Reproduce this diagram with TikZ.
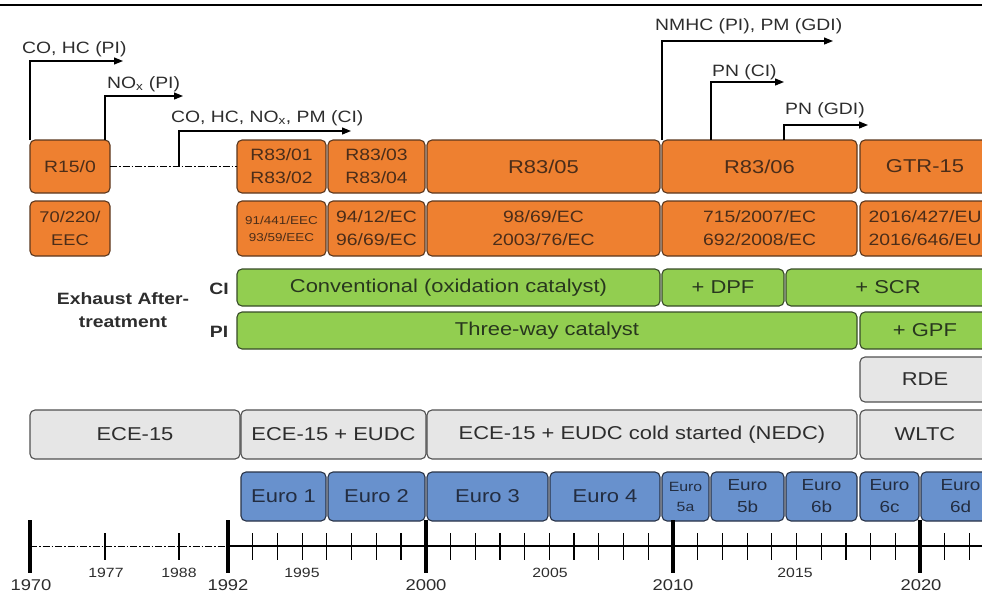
\documentclass[tikz,border=0pt]{standalone}
\usepackage{fontspec}
\setmainfont[FakeStretch=1.18]{Liberation Sans}
\usetikzlibrary{arrows.meta}
\definecolor{ora}{RGB}{238,128,48}
\definecolor{oraD}{RGB}{90,55,30}
\definecolor{oraT}{RGB}{75,45,25}
\definecolor{grn}{RGB}{146,206,80}
\definecolor{grnD}{RGB}{55,75,40}
\definecolor{grnT}{RGB}{40,55,30}
\definecolor{blu}{RGB}{104,145,205}
\definecolor{bluD}{RGB}{40,50,70}
\definecolor{bluT}{RGB}{35,45,65}
\definecolor{gry}{RGB}{230,230,230}
\definecolor{gryD}{RGB}{80,80,80}
\definecolor{txt}{RGB}{45,45,45}
\newcommand\fL{\fontsize{18.6}{22}\selectfont}
\newcommand\fM{\fontsize{16.4}{23}\selectfont}
\newcommand\fS{\fontsize{13.4}{20}\selectfont}
\newcommand\fT{\fontsize{11.4}{17}\selectfont}
\newcommand\fY{\fontsize{15.6}{18}\selectfont}
\newcommand\mybox[7]{%
  \pgfmathsetmacro\bxw{#4-#3}\pgfmathsetmacro\bxh{#6-#5}%
  \pgfmathsetmacro\bxcx{(#3+#4)/2}\pgfmathsetmacro\bxcy{(#5+#6)/2}%
  \node[#1, minimum width=\bxw pt, minimum height=\bxh pt] (#2) at (\bxcx,\bxcy) {#7};}
\begin{document}
\begin{tikzpicture}[x=1pt,y=-1pt,
  box/.style={draw, rounded corners=5pt, inner sep=0pt, outer sep=0pt, line width=1.1pt, align=center, font=\fL},
  obox/.style={box, fill=ora, draw=oraD, text=oraT},
  gbox/.style={box, fill=grn, draw=grnD, text=grnT},
  bbox/.style={box, fill=blu, draw=bluD, text=bluT},
  ybox/.style={box, fill=gry, draw=gryD, text=txt},
  lbl/.style={inner sep=0pt, text=txt, font=\fM, anchor=base west},
  arr/.style={line width=1.2pt, draw=black, -{Triangle[length=9pt,width=7pt]}},
  dashdot/.style={line width=1pt, dash pattern=on 7pt off 2pt on 1.5pt off 2pt},
  yrB/.style={inner sep=0pt, text=txt, font=\fY, anchor=base},
  yrS/.style={inner sep=0pt, text=txt, font=\fS, anchor=base},
  bigtick/.style={line width=4pt},
  smalltick/.style={line width=1.2pt}]
\useasboundingbox (0,0) rectangle (982,592);
\clip (0,0) rectangle (982,592);
\draw[line width=1.5pt] (0,5) -- (982,5);
% Row 1: regulations
\mybox{obox,font=\fM}{R150}{30}{110}{140}{193}{R15/0}
\mybox{obox,font=\fM}{R8301}{237}{326}{140}{193}{R83/01\\R83/02}
\mybox{obox,font=\fM}{R8303}{328}{425}{140}{193}{R83/03\\R83/04}
\mybox{obox}{R8305}{427}{660}{140}{193}{R83/05}
\mybox{obox}{R8306}{662}{857}{140}{193}{R83/06}
\mybox{obox}{GTR}{860}{990}{140}{193}{GTR-15}
% Row 2: directives
\mybox{obox,font=\fontsize{15.5}{22.5}\selectfont}{D70}{30}{110}{201}{256}{70/220/\\EEC}
\mybox{obox,font=\fT}{D91}{237}{326}{201}{256}{91/441/EEC\\93/59/EEC}
\mybox{obox,font=\fM}{D94}{328}{425}{201}{256}{94/12/EC\\96/69/EC}
\mybox{obox,font=\fM}{D98}{427}{660}{201}{256}{98/69/EC\\2003/76/EC}
\mybox{obox,font=\fM}{D715}{662}{857}{201}{256}{715/2007/EC\\692/2008/EC}
\mybox{obox,font=\fM}{D2016}{860}{990}{201}{256}{2016/427/EU\\2016/646/EU}
% Aftertreatment
\mybox{gbox}{G1}{237}{660}{269}{306}{Conventional (oxidation catalyst)}
\mybox{gbox}{G2}{662}{784}{269}{306}{+ DPF}
\mybox{gbox}{G3}{786}{990}{269}{306}{+ SCR}
\mybox{gbox}{G4}{237}{857}{312}{349}{Three-way catalyst}
\mybox{gbox}{G5}{860}{990}{312}{349}{+ GPF}
\mybox{ybox}{RDE}{860}{990}{357}{402}{RDE}
\node[inner sep=0pt, text=txt, font=\bfseries\fM, align=center] (ex) at (123,310.5) {Exhaust After-\\treatment};
\node[inner sep=0pt, text=txt, font=\bfseries\fM] (ci) at (219,288.5) {CI};
\node[inner sep=0pt, text=txt, font=\bfseries\fM] (pi) at (219,331.5) {PI};
% Test cycles
\mybox{ybox}{C1}{30}{240}{410}{459}{ECE-15}
\mybox{ybox}{C2}{241}{426}{410}{459}{ECE-15 + EUDC}
\mybox{ybox}{C3}{427}{857}{410}{459}{ECE-15 + EUDC cold started (NEDC)}
\mybox{ybox}{C4}{860}{990}{410}{459}{WLTC}
% Euro stages
\mybox{bbox}{E1}{241}{326}{472}{521}{Euro 1}
\mybox{bbox}{E2}{328}{425}{472}{521}{Euro 2}
\mybox{bbox}{E3}{427}{548}{472}{521}{Euro 3}
\mybox{bbox}{E4}{550}{660}{472}{521}{Euro 4}
\mybox{bbox,font=\fS}{E5a}{662}{709}{472}{521}{Euro\\5a}
\mybox{bbox,font=\fontsize{16}{22}\selectfont}{E5b}{711}{784}{472}{521}{Euro\\5b}
\mybox{bbox,font=\fontsize{16}{22}\selectfont}{E6b}{786}{857}{472}{521}{Euro\\6b}
\mybox{bbox,font=\fontsize{16}{22}\selectfont}{E6c}{860}{919}{472}{521}{Euro\\6c}
\mybox{bbox,font=\fontsize{16}{22}\selectfont}{E6d}{921}{1000}{472}{521}{Euro\\6d}
% Pollutant arrows
\coordinate (a1e) at (123,61);
\coordinate (a2e) at (183,96);
\coordinate (a3e) at (351,131);
\coordinate (a4e) at (833,41);
\coordinate (a5e) at (784,82);
\coordinate (a6e) at (868,125);
\draw[dashdot] (R150.east) -- (R8301.west);
\coordinate (j3) at ([xshift=69pt]R150.east);
\draw[arr] (R150.north west) |- (a1e);
\draw[arr] ([xshift=75pt]R150.north west) |- (a2e);
\draw[arr] (j3) |- (a3e);
\draw[arr] (R8306.north west) |- (a4e);
\draw[arr] ([xshift=49pt]R8306.north west) |- (a5e);
\draw[arr] ([xshift=122pt]R8306.north west) |- (a6e);
\node[lbl] (l1) at (22,53) {CO, HC (PI)};
\node[lbl] (l2) at (107,88) {NO\textsubscript{x} (PI)};
\node[lbl] (l3) at (171,122) {CO, HC, NO\textsubscript{x}, PM (CI)};
\node[lbl] (l4) at (655,30) {NMHC (PI), PM (GDI)};
\node[lbl] (l5) at (712,76) {PN (CI)};
\node[lbl] (l6) at (785,114) {PN (GDI)};
% Time axis
\draw[dashdot] (30,546) -- (228,546);
\draw[line width=1.1pt] (228,546) -- (982,546);
\foreach \xx in {105,179} {\draw[smalltick] (\xx,533) -- (\xx,560);}
\foreach \yr in {1993,...,1999,2001,2002,...,2009,2011,2012,...,2019,2021,2022} {
  \pgfmathsetmacro\xx{228+(\yr-1992)*24.72}
  \draw[smalltick] (\xx,533) -- (\xx,560);}
\foreach \xx in {30,228,425.8,673,920.2} {\draw[bigtick] (\xx,520) -- (\xx,573);}
\node[yrB] (y1970) at (31,590) {1970};
\node[yrS] (y1977) at (106,577) {1977};
\node[yrS] (y1988) at (179,577) {1988};
\node[yrB] (y1992) at (228,590) {1992};
\node[yrS] (y1995) at (302,577) {1995};
\node[yrB] (y2000) at (426,590) {2000};
\node[yrS] (y2005) at (550,577) {2005};
\node[yrB] (y2010) at (673,590) {2010};
\node[yrS] (y2015) at (795,577) {2015};
\node[yrB] (y2020) at (921,590) {2020};
\end{tikzpicture}
\end{document}
